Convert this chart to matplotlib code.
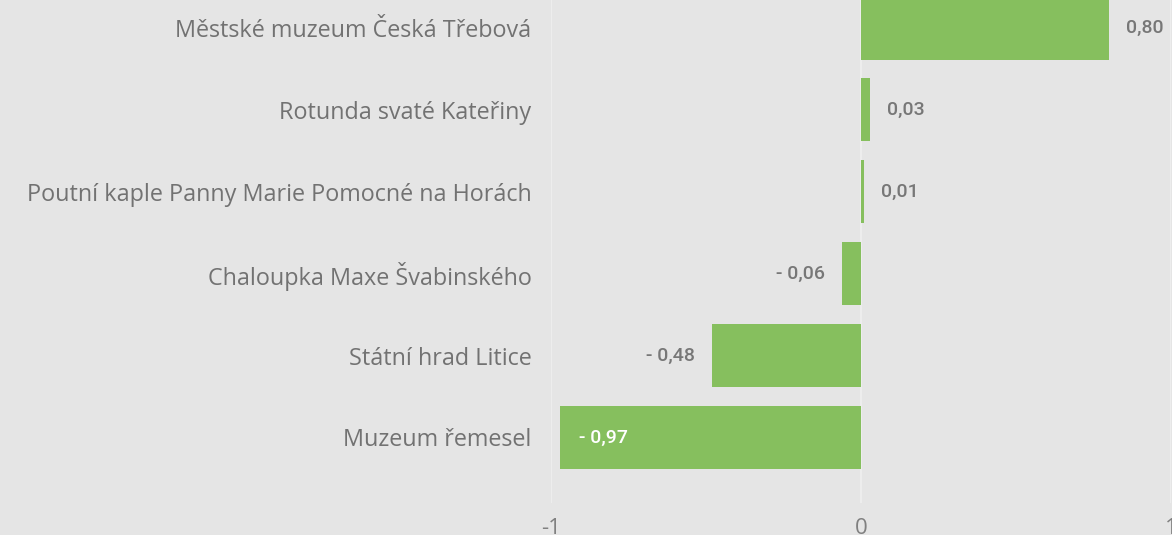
import matplotlib
matplotlib.use("Agg")
import matplotlib.pyplot as plt

names = ["Městské muzeum Česká Třebová",
         "Rotunda svaté Kateřiny",
         "Poutní kaple Panny Marie Pomocné na Horách",
         "Chaloupka Maxe Švabinského",
         "Státní hrad Litice",
         "Muzeum řemesel"]
values = [0.80, 0.03, 0.01, -0.06, -0.48, -0.97]
xticks = [-1, 0, 1]

bg = "#e5e5e5"
green = "#86bf5e"
grey = "#777777"

fig = plt.figure(figsize=(11.72, 5.35), dpi=100, facecolor=bg)
ax = fig.add_axes([551/1172, 1 - 503/535, 620/1172, 503/535])
ax.set_facecolor(bg)

pos = list(range(len(names)))
ax.barh(pos, values, height=0.77, color=green, zorder=2)

ax.set_xlim(-1, 1)
ax.set_ylim(5.8, -0.342)
ax.set_yticks(pos)
ax.set_yticklabels(names, fontsize=16.8, color="#727272", family="Open Sans")
ax.set_xticks(xticks)
ax.set_xticklabels([str(t) for t in xticks], fontsize=16, color="#808080", family="Open Sans")
ax.tick_params(axis="y", length=0, pad=14)
ax.tick_params(axis="x", length=0, pad=11)
ax.grid(axis="x", color="#efefef", linewidth=1.2, zorder=1)
for s in ax.spines.values():
    s.set_visible(False)

# value labels
for i, v in enumerate(values):
    txt = ("%.2f" % v).replace(".", ",").replace("-", "- ")
    if v >= 0:
        ax.annotate(txt, (v, i), xytext=(17, 0), textcoords="offset pixels",
                    ha="left", va="center", fontsize=14, color=grey,
                    family="Roboto", fontweight="medium")
    elif v < -0.7:
        ax.annotate(txt, (v, i), xytext=(19, 0), textcoords="offset pixels",
                    ha="left", va="center", fontsize=14, color="white",
                    family="Roboto", fontweight="medium")
    else:
        ax.annotate(txt, (v, i), xytext=(-17, 0), textcoords="offset pixels",
                    ha="right", va="center", fontsize=14, color=grey,
                    family="Roboto", fontweight="medium")

fig.savefig("out.png", dpi=100, facecolor=bg)
